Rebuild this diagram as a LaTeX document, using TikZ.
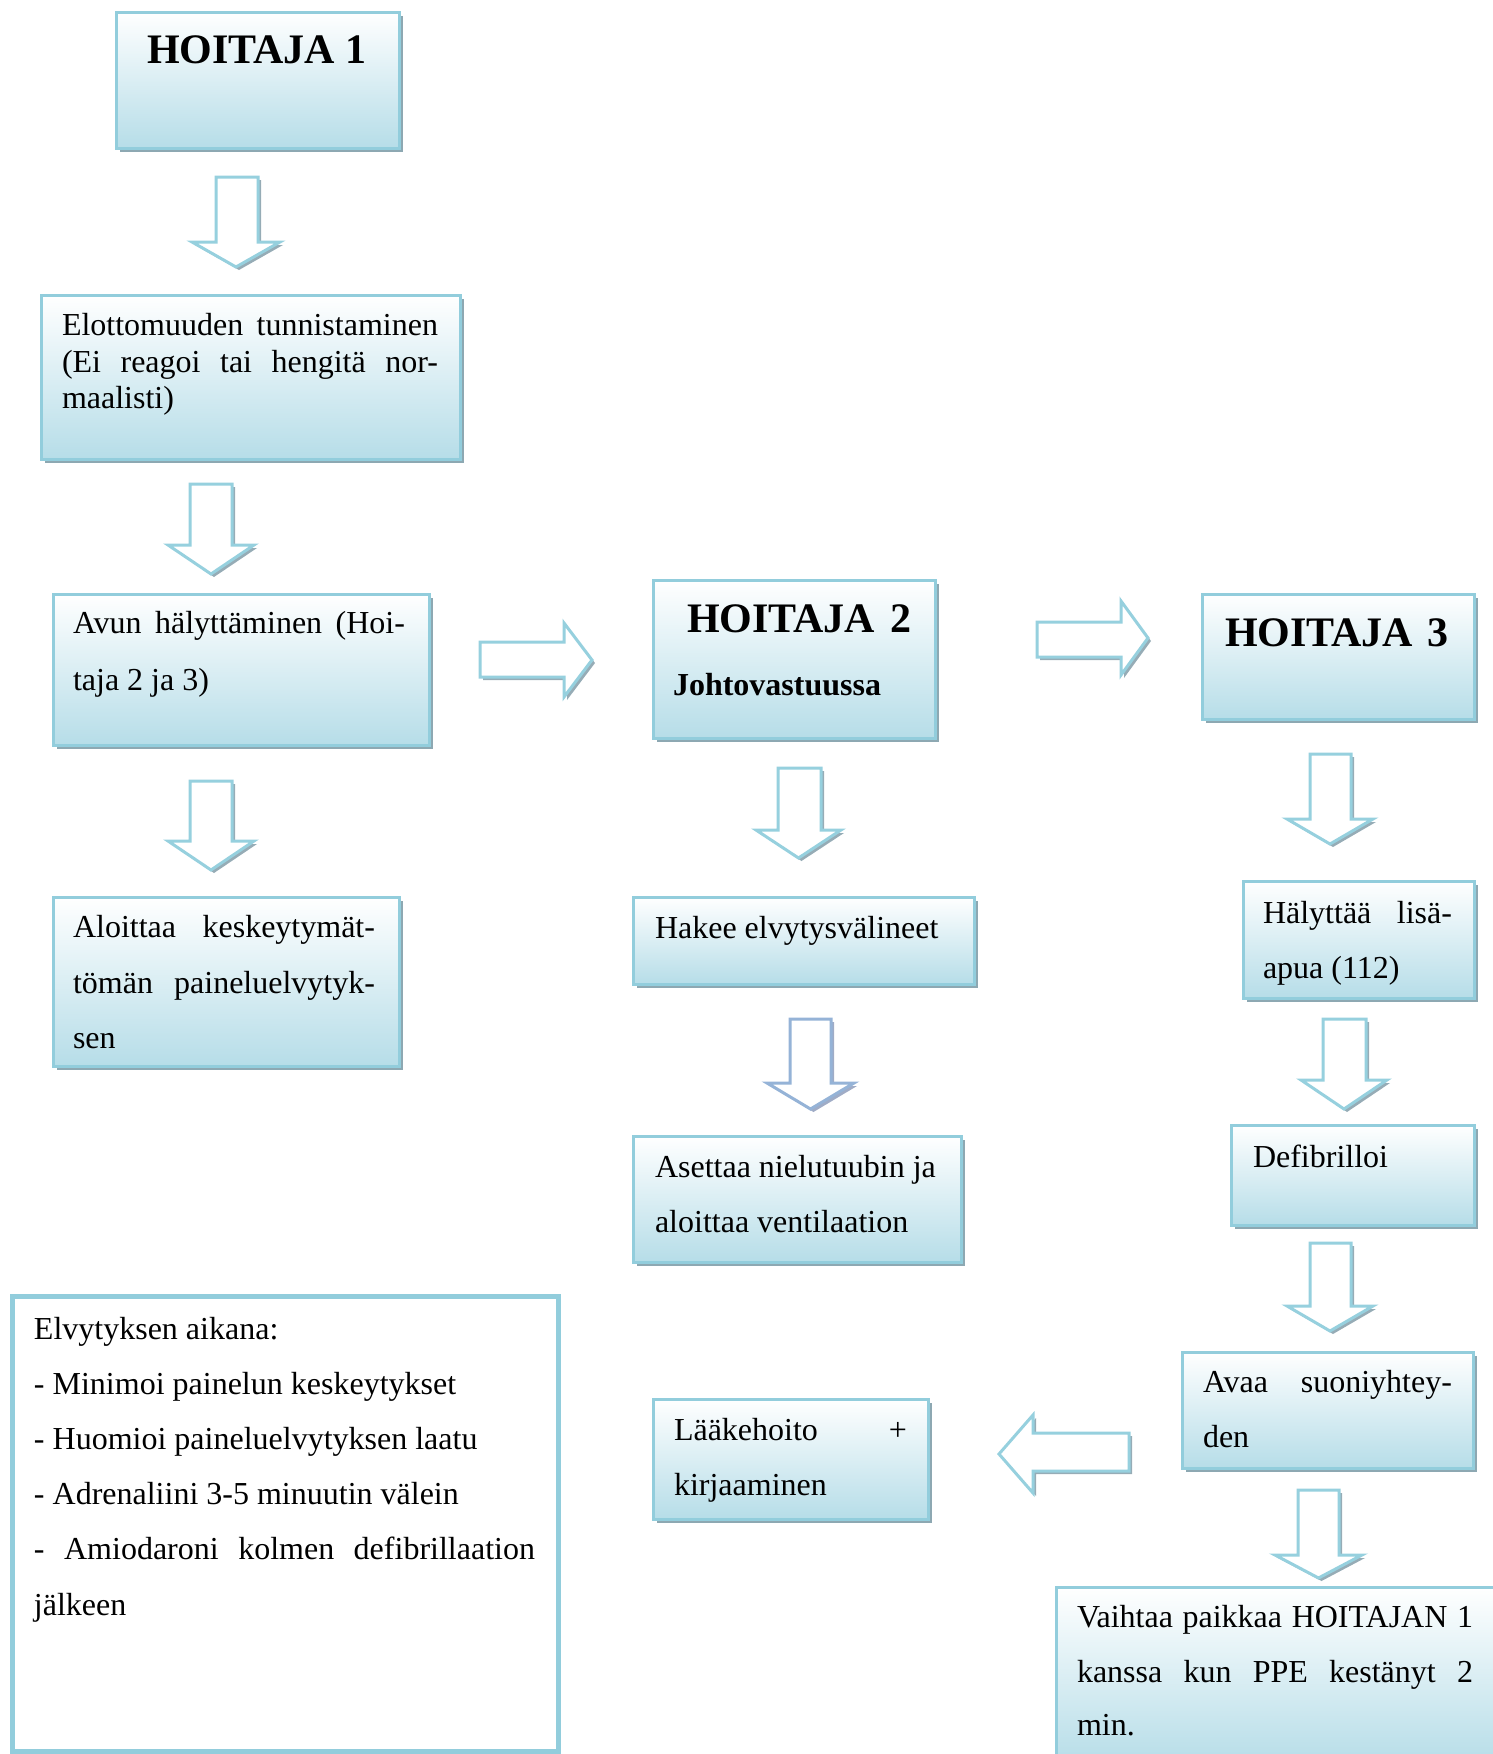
\documentclass[tikz,border=0pt]{standalone}
\usepackage{fontspec}
\setmainfont{Liberation Serif}
\usetikzlibrary{shadows}
\definecolor{boxline}{RGB}{146,205,220}
\definecolor{boxbottom}{RGB}{182,221,232}
\definecolor{boxshadow}{RGB}{141,168,178}
\definecolor{arrline}{RGB}{150,208,222}
\definecolor{arrshadow}{RGB}{150,172,182}
\definecolor{purpline}{RGB}{149,179,215}
\definecolor{purpshadow}{RGB}{160,172,198}
\tikzset{
  box/.style={rectangle, draw=boxline, line width=3pt, top color=white, bottom color=boxbottom,
    inner sep=0pt, outer sep=0pt,
    drop shadow={shadow xshift=4pt, shadow yshift=-4pt, fill=boxshadow, opacity=1}},
  bigbox/.style={rectangle, draw=boxline, line width=5pt, fill=white, inner sep=0pt,
    drop shadow={shadow xshift=3pt, shadow yshift=-3pt, fill=boxshadow, opacity=1}},
  txt/.style={inner sep=0pt, outer sep=0pt, anchor=base west, font=\fontsize{32}{38}\selectfont},
  head/.style={inner sep=0pt, outer sep=0pt, anchor=base west, font=\fontsize{42}{48}\selectfont\bfseries},
  subhead/.style={inner sep=0pt, outer sep=0pt, anchor=base west, font=\fontsize{32}{38}\selectfont\bfseries}
}
% vertical block arrow: #1 line, #2 shadow, #3 shaft left, #4 shaft right, #5 top, #6 head base, #7 tip, #8 head left, #9 head right
\newcommand\arrdown[9]{%
  \fill[#2, xshift=3pt, yshift=-3pt] (#3,#5) -- (#4,#5) -- (#4,#6) -- (#9,#6) -- ({(#8+#9)/2},#7) -- (#8,#6) -- (#3,#6) -- cycle;
  \filldraw[fill=white, draw=#1, line width=3pt, line join=miter] (#3,#5) -- (#4,#5) -- (#4,#6) -- (#9,#6) -- ({(#8+#9)/2},#7) -- (#8,#6) -- (#3,#6) -- cycle;}
% horizontal block arrow: #1 line, #2 shadow, #3 tail x, #4 shaft top, #5 shaft bottom, #6 head base x, #7 head top, #8 head bottom, #9 tip x
\newcommand\arrhoriz[9]{%
  \fill[#2, xshift=3pt, yshift=-3pt] (#3,#4) -- (#6,#4) -- (#6,#7) -- (#9,{(#7+#8)/2}) -- (#6,#8) -- (#6,#5) -- (#3,#5) -- cycle;
  \filldraw[fill=white, draw=#1, line width=3pt, line join=miter] (#3,#4) -- (#6,#4) -- (#6,#7) -- (#9,{(#7+#8)/2}) -- (#6,#8) -- (#6,#5) -- (#3,#5) -- cycle;}
\begin{document}
\begin{tikzpicture}[x=1pt, y=-1pt]
\useasboundingbox (0,0) rectangle (1493,1754);
\clip (0,0) rectangle (1493,1754);

% ---------- boxes ----------
\node[box, minimum width=283pt, minimum height=136pt] (h1) at (257.5,80) {};
\node[box, minimum width=419pt, minimum height=164pt] (b2) at (250.5,377) {};
\node[box, minimum width=376pt, minimum height=151pt] (b3) at (241,669.5) {};
\node[box, minimum width=346pt, minimum height=169pt] (b4) at (226,981.5) {};
\node[box, minimum width=282pt, minimum height=158pt] (h2) at (794,659) {};
\node[box, minimum width=341pt, minimum height=87pt] (b5) at (803.5,940.5) {};
\node[box, minimum width=328pt, minimum height=126pt] (b6) at (797,1199) {};
\node[box, minimum width=275pt, minimum height=120pt] (b7) at (790.5,1459) {};
\node[box, minimum width=272pt, minimum height=125pt] (h3) at (1338,656.5) {};
\node[box, minimum width=231pt, minimum height=117pt] (b8) at (1358.5,939.5) {};
\node[box, minimum width=243pt, minimum height=100pt] (b9) at (1352.5,1175) {};
\node[box, minimum width=291pt, minimum height=116pt] (b10) at (1327.5,1410) {};
\node[box, minimum width=444pt, minimum height=178pt] (b11) at (1278,1676) {};
\node[bigbox, minimum width=545.5pt, minimum height=455pt] (note) at (285.25,1523.5) {};

% ---------- block arrows ----------
\arrdown{arrline}{arrshadow}{216}{258}{177}{242}{267}{192}{280}
\arrdown{arrline}{arrshadow}{190}{232}{484}{545}{574}{168}{254}
\arrdown{arrline}{arrshadow}{190}{232}{781}{841}{870}{168}{254}
\arrhoriz{arrline}{arrshadow}{480}{642}{677}{564}{623}{697}{592}
\arrhoriz{arrline}{arrshadow}{1037}{622}{657}{1121}{601}{675}{1148}
\arrdown{arrline}{arrshadow}{778}{821}{768}{830}{858}{756}{841}
\arrdown{purpline}{purpshadow}{790}{831}{1019}{1083}{1109}{767}{854}
\arrdown{arrline}{arrshadow}{1310}{1351}{754}{819}{844}{1287}{1373}
\arrdown{arrline}{arrshadow}{1323}{1366}{1019}{1080}{1109}{1301}{1387}
\arrdown{arrline}{arrshadow}{1310}{1351}{1243}{1306}{1331}{1287}{1373}
\arrdown{arrline}{arrshadow}{1298}{1339}{1490}{1555}{1578}{1275}{1362}
\arrhoriz{arrline}{arrshadow}{1129}{1433}{1471}{1033}{1415}{1493}{999}

% ---------- texts ----------
\node[head] (t-h1) at (147,63) {HOITAJA 1};
\node[head] (t-h2) at (687,632) {\hbox to 225pt{HOITAJA\hfill 2}};
\node[subhead] (t-h2b) at (673,695) {Johtovastuussa};
\node[head] (t-h3) at (1225,646) {\hbox to 224pt{HOITAJA\hfill 3}};

\node[txt] (t-b2a) at (62,335) {\hbox to 376pt{Elottomuuden\hfill tunnistaminen}};
\node[txt] (t-b2b) at (62,372) {\hbox to 376pt{(Ei\hfill reagoi\hfill tai\hfill hengitä\hfill nor-}};
\node[txt] (t-b2c) at (62,408) {maalisti)};

\node[txt] (t-b3a) at (73,633) {\hbox to 332pt{Avun\hfill hälyttäminen\hfill (Hoi-}};
\node[txt] (t-b3b) at (73,690) {taja 2 ja 3)};

\node[txt] (t-b4a) at (73,937) {\hbox to 302pt{Aloittaa\hfill keskeytymät-}};
\node[txt] (t-b4b) at (73,993) {\hbox to 302pt{tömän\hfill paineluelvytyk-}};
\node[txt] (t-b4c) at (73,1048) {sen};

\node[txt] (t-b5) at (655,938) {Hakee elvytysvälineet};
\node[txt] (t-b6a) at (655,1177) {Asettaa nielutuubin ja};
\node[txt] (t-b6b) at (655,1232) {aloittaa ventilaation};

\node[txt] (t-b7a) at (674,1440) {\hbox to 233pt{Lääkehoito\hfill +}};
\node[txt] (t-b7b) at (674,1495) {kirjaaminen};

\node[txt] (t-b8a) at (1263,923) {\hbox to 189pt{Hälyttää\hfill lisä-}};
\node[txt] (t-b8b) at (1263,978) {apua (112)};

\node[txt] (t-b9) at (1253,1167) {Defibrilloi};

\node[txt] (t-b10a) at (1203,1392) {\hbox to 249pt{Avaa\hfill suoniyhtey-}};
\node[txt] (t-b10b) at (1203,1447) {den};

\node[txt] (t-b11a) at (1077,1627) {\hbox to 396pt{Vaihtaa\hfill paikkaa\hfill HOITAJAN\hfill 1}};
\node[txt] (t-b11b) at (1077,1682) {\hbox to 396pt{kanssa\hfill kun\hfill PPE\hfill kestänyt\hfill 2}};
\node[txt] (t-b11c) at (1077,1735) {min.};

\node[txt] (t-n1) at (34,1339) {Elvytyksen aikana:};
\node[txt] (t-n2) at (34,1394) {- Minimoi painelun keskeytykset};
\node[txt] (t-n3) at (34,1449) {- Huomioi paineluelvytyksen laatu};
\node[txt] (t-n4) at (34,1504) {- Adrenaliini 3-5 minuutin välein};
\node[txt] (t-n5) at (34,1559) {\hbox to 501pt{-\hfill Amiodaroni\hfill kolmen\hfill defibrillaation}};
\node[txt] (t-n6) at (34,1615) {jälkeen};
\end{tikzpicture}
\end{document}
